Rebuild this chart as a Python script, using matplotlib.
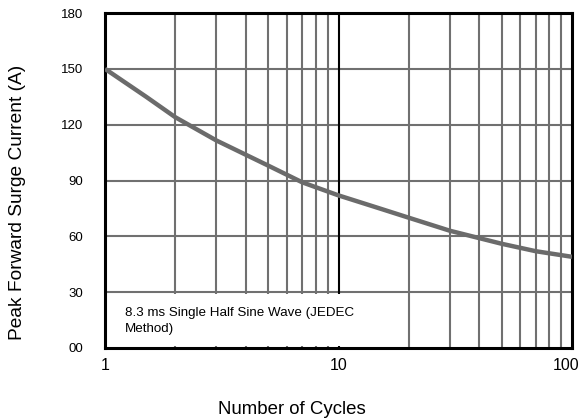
import matplotlib
matplotlib.use("Agg")
import matplotlib.pyplot as plt
import matplotlib.transforms as mtransforms
import numpy as np

plt.rcParams['font.family'] = ['Liberation Sans', 'DejaVu Sans']

cycles = [1, 1.5, 2, 3, 5, 7, 10, 15, 20, 30, 50, 70, 100]
current = [150, 135, 124, 111.5, 98, 89, 82, 75, 70, 63, 56, 52, 49]

y_ticks = [0, 30, 60, 90, 120, 150, 180]
y_labels = ["00", "30", "60", "90", "120", "150", "180"]
x_ticks = [1, 10, 100]
x_labels = ["1", "10", "100"]

fig = plt.figure(figsize=(5.82, 4.18), dpi=100)
ax = fig.add_axes([105/582, 1-348/418, (572-105)/582, (348-13)/418])
ax.set_xscale('log')
ax.set_xlim(1, 100)
ax.set_ylim(0, 180)

grid_c = '#707070'
for y in y_ticks[1:-1]:
    ax.axhline(y, color=grid_c, lw=1.5, zorder=1)
for dec in [1, 10]:
    for m in range(2, 10):
        x = dec * m
        ax.axvline(x, color=grid_c, lw=1.5, zorder=1)
ax.axvline(10, color='black', lw=1.5, zorder=1.5)

# white note area in the lower-left band
ax.fill_between([1, 12], 1.2, 29.0, color='white', zorder=2, lw=0)

ax.plot(cycles, current, color='#6b6b6b', lw=3.2, zorder=3, solid_capstyle='butt')

ax.set_yticks(y_ticks)
ax.set_yticklabels(y_labels)
ax.set_xticks(x_ticks)
ax.set_xticklabels(x_labels)
ax.minorticks_off()
ax.tick_params(length=0, colors='black')
ax.tick_params(axis='y', labelsize=9.5, pad=15.5)
ax.tick_params(axis='x', labelsize=11.5, pad=7)
for s in ax.spines.values():
    s.set_linewidth(2.2)
    s.set_color('black')

last = ax.get_xticklabels()[-1]
last.set_transform(last.get_transform() + mtransforms.ScaledTranslation(-5.5/100, 0, fig.dpi_scale_trans))

ax.text(1.218, 14.5, "8.3 ms Single Half Sine Wave (JEDEC\nMethod)", fontsize=9.6,
        va='center', ha='left', zorder=4, linespacing=1.45)

fig.text(292 / 582, 1 - 409 / 418, "Number of Cycles", ha='center', va='center', fontsize=13.4)
fig.text(18 / 582, 1 - 202 / 418, "Peak Forward Surge Current (A)", rotation=90,
         ha='center', va='center', fontsize=13.8)

fig.savefig("out.png", dpi=100)
